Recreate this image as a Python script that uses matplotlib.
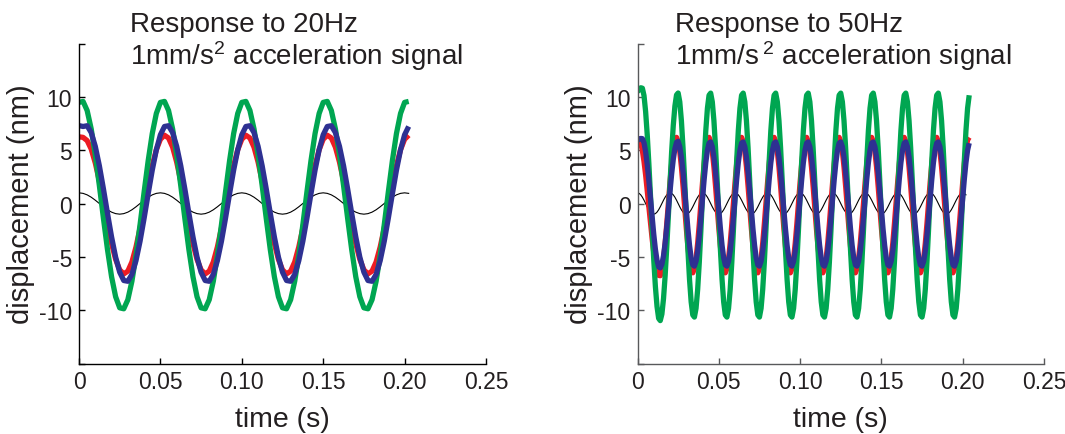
import numpy as np
import matplotlib.pyplot as plt

plt.rcParams['font.family'] = ['Liberation Sans', 'DejaVu Sans']
plt.rcParams['mathtext.fontset'] = 'custom'
plt.rcParams['mathtext.rm'] = 'Liberation Sans'
plt.rcParams['mathtext.it'] = 'Liberation Sans:italic'

# displacement (nm)
# 20 Hz panel: one sample every 2.5 ms, one row per cycle
green_20 = [
    9.48, 9.57, 8.72, 6.99, 4.57, 1.69, -1.38, -4.32, -6.86, -8.74,
    -9.78, -9.87, -9.02, -7.29, -4.87, -1.99, 1.08, 4.02, 6.56, 8.44,
    9.48, 9.57, 8.72, 6.99, 4.57, 1.69, -1.38, -4.32, -6.86, -8.74,
    -9.78, -9.87, -9.02, -7.29, -4.87, -1.99, 1.08, 4.02, 6.56, 8.44,
    9.48, 9.57, 8.72, 6.99, 4.57, 1.69, -1.38, -4.32, -6.86, -8.74,
    -9.78, -9.87, -9.02, -7.29, -4.87, -1.99, 1.08, 4.02, 6.56, 8.44,
    9.48, 9.57, 8.72, 6.99, 4.57, 1.69, -1.38, -4.32, -6.86, -8.74,
    -9.78, -9.87, -9.02, -7.29, -4.87, -1.99, 1.08, 4.02, 6.56, 8.44,
    9.48, 9.57,
]
red_20 = [
    6.25, 6.2, 5.9, 5.1, 3.8, 2.1, 0.10, -1.91, -3.75, -5.24,
    -6.22, -6.60, -6.34, -5.48, -4.08, -2.30, -0.30, 1.71, 3.55, 5.04,
    6.02, 6.40, 6.14, 5.28, 3.88, 2.10, 0.10, -1.91, -3.75, -5.24,
    -6.22, -6.60, -6.34, -5.48, -4.08, -2.30, -0.30, 1.71, 3.55, 5.04,
    6.02, 6.40, 6.14, 5.28, 3.88, 2.10, 0.10, -1.91, -3.75, -5.24,
    -6.22, -6.60, -6.34, -5.48, -4.08, -2.30, -0.30, 1.71, 3.55, 5.04,
    6.02, 6.40, 6.14, 5.28, 3.88, 2.10, 0.10, -1.91, -3.75, -5.24,
    -6.22, -6.60, -6.34, -5.48, -4.08, -2.30, -0.30, 1.71, 3.55, 5.04,
    6.02, 6.40,
]
blue_20 = [
    7.30, 7.22, 7.29, 6.65, 5.36, 3.54, 1.38, -0.92, -3.13, -5.03,
    -6.44, -7.22, -7.29, -6.65, -5.36, -3.54, -1.38, 0.92, 3.13, 5.03,
    6.44, 7.22, 7.29, 6.65, 5.36, 3.54, 1.38, -0.92, -3.13, -5.03,
    -6.44, -7.22, -7.29, -6.65, -5.36, -3.54, -1.38, 0.92, 3.13, 5.03,
    6.44, 7.22, 7.29, 6.65, 5.36, 3.54, 1.38, -0.92, -3.13, -5.03,
    -6.44, -7.22, -7.29, -6.65, -5.36, -3.54, -1.38, 0.92, 3.13, 5.03,
    6.44, 7.22, 7.29, 6.65, 5.36, 3.54, 1.38, -0.92, -3.13, -5.03,
    -6.44, -7.22, -7.29, -6.65, -5.36, -3.54, -1.38, 0.92, 3.13, 5.03,
    6.44, 7.22,
]
signal_20 = [
    1.0, 0.95, 0.81, 0.59, 0.31, 0.0, -0.31, -0.59, -0.81, -0.95,
    -1.0, -0.95, -0.81, -0.59, -0.31, 0.0, 0.31, 0.59, 0.81, 0.95,
    1.0, 0.95, 0.81, 0.59, 0.31, 0.0, -0.31, -0.59, -0.81, -0.95,
    -1.0, -0.95, -0.81, -0.59, -0.31, 0.0, 0.31, 0.59, 0.81, 0.95,
    1.0, 0.95, 0.81, 0.59, 0.31, 0.0, -0.31, -0.59, -0.81, -0.95,
    -1.0, -0.95, -0.81, -0.59, -0.31, 0.0, 0.31, 0.59, 0.81, 0.95,
    1.0, 0.95, 0.81, 0.59, 0.31, 0.0, -0.31, -0.59, -0.81, -0.95,
    -1.0, -0.95, -0.81, -0.59, -0.31, 0.0, 0.31, 0.59, 0.81, 0.95,
    1.0, 0.95,
]

# 50 Hz panel: one sample every 1 ms, one row per cycle
green_50 = [
    10.45, 10.7, 10.85, 10.81, 10.12, 8.61, 6.41, 3.70, 0.69, -2.40,
    -5.29, -7.78, -9.65, -10.77, -10.98, -10.37, -8.92, -6.77, -4.08, -1.08,
    1.98, 4.86, 7.31, 9.13, 10.18, 10.36, 9.53, 7.76, 5.22, 2.15,
    -1.14, -4.34, -7.13, -9.23, -10.45, -10.65, -9.83, -8.06, -5.52, -2.45,
    0.84, 4.04, 6.83, 8.93, 10.15, 10.35, 9.53, 7.76, 5.22, 2.15,
    -1.14, -4.34, -7.13, -9.23, -10.45, -10.65, -9.83, -8.06, -5.52, -2.45,
    0.84, 4.04, 6.83, 8.93, 10.15, 10.35, 9.53, 7.76, 5.22, 2.15,
    -1.14, -4.34, -7.13, -9.23, -10.45, -10.65, -9.83, -8.06, -5.52, -2.45,
    0.84, 4.04, 6.83, 8.93, 10.15, 10.35, 9.53, 7.76, 5.22, 2.15,
    -1.14, -4.34, -7.13, -9.23, -10.45, -10.65, -9.83, -8.06, -5.52, -2.45,
    0.84, 4.04, 6.83, 8.93, 10.15, 10.35, 9.53, 7.76, 5.22, 2.15,
    -1.14, -4.34, -7.13, -9.23, -10.45, -10.65, -9.83, -8.06, -5.52, -2.45,
    0.84, 4.04, 6.83, 8.93, 10.15, 10.35, 9.53, 7.76, 5.22, 2.15,
    -1.14, -4.34, -7.13, -9.23, -10.45, -10.65, -9.83, -8.06, -5.52, -2.45,
    0.84, 4.04, 6.83, 8.93, 10.15, 10.35, 9.53, 7.76, 5.22, 2.15,
    -1.14, -4.34, -7.13, -9.23, -10.45, -10.65, -9.83, -8.06, -5.52, -2.45,
    0.84, 4.04, 6.83, 8.93, 10.15, 10.35, 9.53, 7.76, 5.22, 2.15,
    -1.14, -4.34, -7.13, -9.23, -10.45, -10.65, -9.83, -8.06, -5.52, -2.45,
    0.84, 4.04, 6.83, 8.93, 10.15, 10.35, 9.53, 7.76, 5.22, 2.15,
    -1.14, -4.34, -7.13, -9.23, -10.45, -10.65, -9.83, -8.06, -5.52, -2.45,
    0.84, 4.04, 6.83, 8.93, 10.15,
]
red_50 = [
    6.1, 6.05, 5.68, 4.96, 3.94, 2.67, 1.22, -0.32, -1.85, -3.31,
    -4.59, -5.63, -6.36, -6.74, -6.77, -6.29, -5.24, -3.73, -1.91, 0.07,
    2.02, 3.75, 5.10, 5.94, 6.20, 5.82, 4.87, 3.42, 1.62, -0.35,
    -2.30, -4.04, -5.40, -6.25, -6.50, -6.12, -5.17, -3.72, -1.92, 0.05,
    2.00, 3.74, 5.10, 5.95, 6.20, 5.82, 4.87, 3.42, 1.62, -0.35,
    -2.30, -4.04, -5.40, -6.25, -6.50, -6.12, -5.17, -3.72, -1.92, 0.05,
    2.00, 3.74, 5.10, 5.95, 6.20, 5.82, 4.87, 3.42, 1.62, -0.35,
    -2.30, -4.04, -5.40, -6.25, -6.50, -6.12, -5.17, -3.72, -1.92, 0.05,
    2.00, 3.74, 5.10, 5.95, 6.20, 5.82, 4.87, 3.42, 1.62, -0.35,
    -2.30, -4.04, -5.40, -6.25, -6.50, -6.12, -5.17, -3.72, -1.92, 0.05,
    2.00, 3.74, 5.10, 5.95, 6.20, 5.82, 4.87, 3.42, 1.62, -0.35,
    -2.30, -4.04, -5.40, -6.25, -6.50, -6.12, -5.17, -3.72, -1.92, 0.05,
    2.00, 3.74, 5.10, 5.95, 6.20, 5.82, 4.87, 3.42, 1.62, -0.35,
    -2.30, -4.04, -5.40, -6.25, -6.50, -6.12, -5.17, -3.72, -1.92, 0.05,
    2.00, 3.74, 5.10, 5.95, 6.20, 5.82, 4.87, 3.42, 1.62, -0.35,
    -2.30, -4.04, -5.40, -6.25, -6.50, -6.12, -5.17, -3.72, -1.92, 0.05,
    2.00, 3.74, 5.10, 5.95, 6.20, 5.82, 4.87, 3.42, 1.62, -0.35,
    -2.30, -4.04, -5.40, -6.25, -6.50, -6.12, -5.17, -3.72, -1.92, 0.05,
    2.00, 3.74, 5.10, 5.95, 6.20, 5.82, 4.87, 3.42, 1.62, -0.35,
    -2.30, -4.04, -5.40, -6.25, -6.50, -6.12, -5.17, -3.72, -1.92, 0.05,
    2.00, 3.74, 5.10, 5.95, 6.20,
]
blue_50 = [
    5.9, 6.05, 6.1, 6.08, 5.69, 4.85, 3.63, 2.12, 0.44, -1.28,
    -2.89, -4.28, -5.32, -5.94, -6.04, -5.70, -4.90, -3.70, -2.20, -0.53,
    1.17, 2.77, 4.13, 5.14, 5.73, 5.83, 5.32, 4.34, 2.93, 1.23,
    -0.60, -2.37, -3.92, -5.09, -5.76, -5.87, -5.42, -4.44, -3.03, -1.33,
    0.50, 2.27, 3.82, 4.99, 5.66, 5.77, 5.32, 4.34, 2.93, 1.23,
    -0.60, -2.37, -3.92, -5.09, -5.76, -5.87, -5.42, -4.44, -3.03, -1.33,
    0.50, 2.27, 3.82, 4.99, 5.66, 5.77, 5.32, 4.34, 2.93, 1.23,
    -0.60, -2.37, -3.92, -5.09, -5.76, -5.87, -5.42, -4.44, -3.03, -1.33,
    0.50, 2.27, 3.82, 4.99, 5.66, 5.77, 5.32, 4.34, 2.93, 1.23,
    -0.60, -2.37, -3.92, -5.09, -5.76, -5.87, -5.42, -4.44, -3.03, -1.33,
    0.50, 2.27, 3.82, 4.99, 5.66, 5.77, 5.32, 4.34, 2.93, 1.23,
    -0.60, -2.37, -3.92, -5.09, -5.76, -5.87, -5.42, -4.44, -3.03, -1.33,
    0.50, 2.27, 3.82, 4.99, 5.66, 5.77, 5.32, 4.34, 2.93, 1.23,
    -0.60, -2.37, -3.92, -5.09, -5.76, -5.87, -5.42, -4.44, -3.03, -1.33,
    0.50, 2.27, 3.82, 4.99, 5.66, 5.77, 5.32, 4.34, 2.93, 1.23,
    -0.60, -2.37, -3.92, -5.09, -5.76, -5.87, -5.42, -4.44, -3.03, -1.33,
    0.50, 2.27, 3.82, 4.99, 5.66, 5.77, 5.32, 4.34, 2.93, 1.23,
    -0.60, -2.37, -3.92, -5.09, -5.76, -5.87, -5.42, -4.44, -3.03, -1.33,
    0.50, 2.27, 3.82, 4.99, 5.66, 5.77, 5.32, 4.34, 2.93, 1.23,
    -0.60, -2.37, -3.92, -5.09, -5.76, -5.87, -5.42, -4.44, -3.03, -1.33,
    0.50, 2.27, 3.82, 4.99, 5.66,
]
signal_50 = [
    1.0, 0.95, 0.81, 0.59, 0.31, 0.0, -0.31, -0.59, -0.81, -0.95,
    -1.0, -0.95, -0.81, -0.59, -0.31, 0.0, 0.31, 0.59, 0.81, 0.95,
] * 10 + [1.0, 0.95, 0.81]

dt_20 = 0.0025
dt_50 = 0.001
t_20 = np.arange(len(green_20)) * dt_20
t_50 = np.arange(len(green_50)) * dt_50

x_ticks = [0, 0.05, 0.10, 0.15, 0.20, 0.25]
x_labels = ['0', '0.05', '0.10', '0.15', '0.20', '0.25']
y_ticks = [-15, -10, -5, 0, 5, 10, 15]
y_labels = ['', '-10', '-5', '0', '5', '10', '']

text_col = '#231f20'
GREEN = '#00a651'
RED = '#ed1c24'
BLUE = '#2e3192'

fig = plt.figure(figsize=(10.65, 4.35), dpi=100)
ax1 = fig.add_axes([79 / 1065, 70.5 / 435, 407 / 1065, 320 / 435])
ax2 = fig.add_axes([637.5 / 1065, 70.5 / 435, 406.5 / 1065, 320 / 435])

panels = [
    (ax1, t_20, signal_20, red_20, green_20, blue_20, 'black', 130, '20Hz', r'1mm/s$^{\mathrm{2}}$ acceleration signal'),
    (ax2, t_50, signal_50, red_50, green_50, blue_50, '#58595b', 675, '50Hz', r'1mm/s$\,^{\mathrm{2}}$ acceleration signal'),
]

for ax, t, sig, red, green, blue, axcol, title_x, freq, line2 in panels:
    ax.plot(t[:len(sig)], sig, color='black', linewidth=0.8)
    ax.plot(t, red, color=RED, linewidth=3.8, solid_capstyle='butt')
    ax.plot(t, green, color=GREEN, linewidth=3.8, solid_capstyle='butt')
    ax.plot(t, blue, color=BLUE, linewidth=3.8, solid_capstyle='butt')

    ax.set_xlim(0, 0.25)
    ax.set_ylim(-15, 15)
    ax.set_xticks(x_ticks)
    ax.set_xticklabels(x_labels)
    ax.set_yticks(y_ticks)
    ax.set_yticklabels(y_labels)
    for s in ['top', 'right']:
        ax.spines[s].set_visible(False)
    for s in ['left', 'bottom']:
        ax.spines[s].set_color(axcol)
        ax.spines[s].set_linewidth(1.0)
    ax.tick_params(direction='in', length=4, width=1.0, color=axcol,
                   labelsize=16.5, labelcolor=text_col, pad=5)
    ax.set_xlabel('time (s)', fontsize=20.5, color=text_col, labelpad=9)
    ax.set_ylabel('displacement (nm)', fontsize=21, color=text_col, labelpad=3)

    fig.text(title_x / 1065, 1 - 32 / 435, 'Response to ' + freq, fontsize=20,
             color=text_col, ha='left', va='baseline')
    fig.text(title_x / 1065, 1 - 65 / 435, line2, fontsize=20,
             color=text_col, ha='left', va='baseline')

fig.savefig('out.png', dpi=100)
